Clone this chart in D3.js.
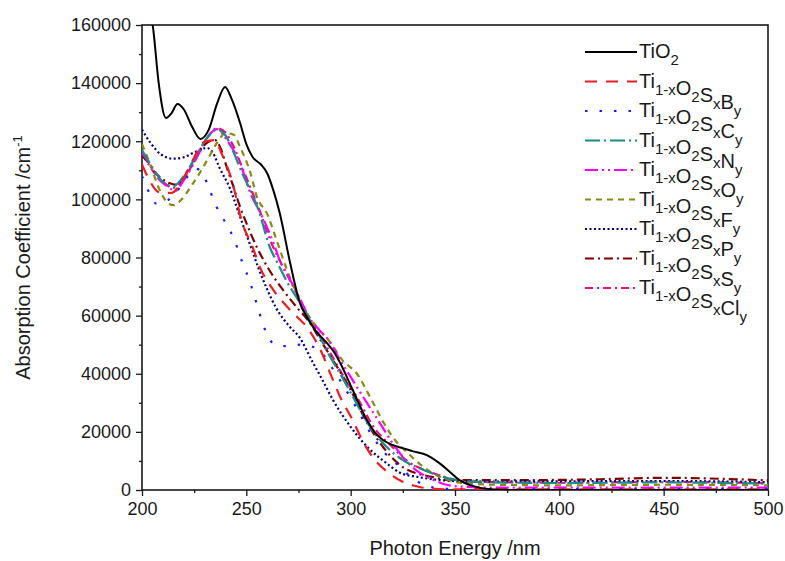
<!DOCTYPE html>
<html>
<head>
<meta charset="utf-8">
<script src="https://cdn.jsdelivr.net/npm/d3@7"></script>
<style>
  body { margin: 0; background: #fff; }
  svg text { font-family: "Liberation Sans", Arial, sans-serif; fill: #1a1a1a; }
</style>
</head>
<body>
<div id="the_chart"></div>
<script>
// x: photon energy (nm), y: absorption coefficient (cm^-1)
var tio2 = [[200,185000],[203,168000],[205.3,159000],[208,140000],[211.5,128000],[214,129500],[217,132800],[220,131000],[224,125000],[228,120800],[232,124000],[236,133000],[239.8,138700],[243,134500],[247,126300],[250,119000],[253,114600],[257,112000],[260,109000],[263,103000],[266,95300],[271,78100],[275.7,64300],[279,59500],[283,55000],[288.6,50600],[292,47500],[295,43700],[301,34400],[307.8,24100],[312,19500],[315.5,17200],[320,15500],[325,14400],[330,13300],[336.5,12000],[342,9500],[347.6,6200],[352,3500],[358,1500],[366.7,300],[380,0],[500,0]];
var tiB = [[200,112000],[204,106000],[208,102500],[214,102200],[219,106000],[224,113000],[230,119800],[235,120400],[238,116000],[243,106700],[248,92000],[253,83600],[256.5,76700],[263,68800],[271,61900],[280,55100],[286,47500],[290,40500],[295,32000],[301,24000],[306,16500],[312,10000],[318,6000],[324,3200],[332,1200],[340,400],[350,200],[500,200]];
var tiC = [[200,108000],[203,103000],[207,98500],[212,99500],[217,103000],[222,108000],[226,110500],[229,109000],[232,104000],[236,97000],[240,92000],[244,86500],[248,78500],[252,71000],[255,64000],[258,57000],[261,52000],[265,49700],[270,49500],[276,50000],[281,49500],[287,46500],[292,41000],[296,36500],[303,28000],[310,19000],[316,13000],[322,9000],[328,5000],[333,2500],[340,800],[350,300],[400,300],[500,400]];
var tiN = [[200,117000],[205,111000],[210,106000],[215,104500],[220,108000],[226,115000],[231,121000],[236,124000],[240,122000],[244,116000],[248,109000],[252,103000],[256,96000],[261,84000],[265,78000],[269,72300],[276,64000],[280,59000],[285,53000],[290,46000],[295,40000],[300,33500],[305,27000],[310,21000],[315,16500],[320,13000],[325,10300],[333,7500],[340,5500],[350,3500],[360,2800],[400,2400],[450,2600],[500,2200]];
var tiO = [[200,116000],[203,113000],[208,107000],[212,104500],[216,103000],[220,106500],[226,114000],[231,121000],[236,124200],[241,120000],[247,112500],[252,102000],[257,95000],[263,85000],[266,79000],[271,72300],[276,65400],[280,59500],[285,55000],[290,51000],[293,47100],[300,38900],[306,32000],[314,23000],[320,16200],[325,11400],[331,7000],[338,4000],[345,2000],[352,1200],[370,800],[500,800]];
var tiF = [[200,119000],[204,112000],[208,104000],[212,99000],[215,98000],[219,100000],[224,105000],[228,109500],[232,114500],[236,119500],[240,122800],[244,122200],[247,118000],[252,109000],[255,101000],[260,95000],[264.5,86000],[269,76700],[274,67800],[279,60900],[285,55000],[290,51000],[296,44700],[303,40000],[310,31000],[317,21700],[322,16500],[327,13000],[333,9000],[340,5500],[345,4000],[352,2500],[370,1800],[400,1600],[450,1800],[500,1600]];
var tiP = [[200,124000],[204,119500],[209,115500],[215,114000],[220,114500],[226,116500],[231,117700],[234,116000],[237,111100],[242,104000],[247,94000],[252,84000],[256,76000],[260,69000],[264,63000],[271,56000],[275,53000],[282,43700],[286,38500],[291.5,31000],[300,21700],[308,14800],[317,9300],[324,5800],[332,4500],[345,3300],[356,2900],[400,3000],[450,3100],[500,2700]];
var tiS = [[200,115000],[202,113500],[206,109500],[213,105600],[217,105000],[223,111000],[231,119400],[235,120400],[238,117000],[240.6,111100],[243.6,104800],[247,97400],[250,91900],[255,83600],[261,75700],[267.6,68800],[274,63000],[280,58000],[286,51000],[291.5,44700],[300,34400],[308,23000],[315.5,14800],[325,7900],[339,4500],[348,3400],[380,3400],[420,3700],[450,4200],[480,3800],[500,3300]];
var tiCl = [[200,116000],[205,110000],[210,106000],[215,104000],[220,107000],[226,114500],[231,121000],[236,124500],[240,123000],[244,118000],[248,111000],[252,104000],[257,95000],[262,85000],[266,79000],[271,72000],[276,65000],[280,59000],[285,53500],[290,47500],[295,41000],[303,32000],[311,21700],[320,14800],[327,10000],[335,7000],[343,5000],[352,3300],[370,2700],[400,2500],[450,2800],[500,2300]];

// legend labels as [text, subscript] parts
var labels = [
  [["Ti",""],["O","2"]],
  [["Ti","1-x"],["O","2"],["S","x"],["B","y"]],
  [["Ti","1-x"],["O","2"],["S","x"],["C","y"]],
  [["Ti","1-x"],["O","2"],["S","x"],["N","y"]],
  [["Ti","1-x"],["O","2"],["S","x"],["O","y"]],
  [["Ti","1-x"],["O","2"],["S","x"],["F","y"]],
  [["Ti","1-x"],["O","2"],["S","x"],["P","y"]],
  [["Ti","1-x"],["O","2"],["S","x"],["S","y"]],
  [["Ti","1-x"],["O","2"],["S","x"],["Cl","y"]]
];
var series = [tio2, tiB, tiC, tiN, tiO, tiF, tiP, tiS, tiCl];
var colors = ["#000000","#ee1c24","#1a1aff","#1a8a8a","#ff00ff","#8a8a10","#000080","#800000","#ee0a80"];
var dashes = [null,"12,9","2.5,12","15,4,2,4","13,4,2,4,2,4","6,5","2,2.5","9,4,2,4","8,4,2,4"];

var xTicks = [200,250,300,350,400,450,500];
var yTicks = [0,20000,40000,60000,80000,100000,120000,140000,160000];

gen_vis();

function gen_vis() {
  var w = 785, h = 561;
  var left = 142, right = 768, top = 25, bottom = 490;

  var svg = d3.select("#the_chart").append("svg")
              .attr("width", w).attr("height", h);

  var xscale = d3.scaleLinear().domain([200,500]).range([left,right]);
  var yscale = d3.scaleLinear().domain([0,160000]).range([bottom,top]);

  svg.append("clipPath").attr("id","clip")
     .append("rect").attr("x",left).attr("y",top)
     .attr("width",right-left).attr("height",bottom-top);

  // minor ticks
  var xminor = d3.axisBottom(xscale).tickValues(d3.range(225,500,50)).tickSize(3).tickFormat("");
  var yminor = d3.axisLeft(yscale).tickValues(d3.range(10000,160000,20000)).tickSize(3).tickFormat("");

  var xaxis = d3.axisBottom(xscale).tickValues(xTicks).tickSize(6).tickPadding(6).tickFormat(d3.format("d"));
  var yaxis = d3.axisLeft(yscale).tickValues(yTicks).tickSize(6).tickPadding(5).tickFormat(d3.format("d"));

  svg.append("g").attr("transform","translate(0," + bottom + ")").call(xminor);
  svg.append("g").attr("transform","translate(" + left + ",0)").call(yminor);
  svg.append("g").attr("class","xaxis").attr("transform","translate(0," + bottom + ")").call(xaxis);
  svg.append("g").attr("class","yaxis").attr("transform","translate(" + left + ",0)").call(yaxis);

  svg.selectAll(".domain").remove();
  svg.selectAll(".tick line").attr("stroke","#1a1a1a").attr("stroke-width",1.3);
  svg.selectAll(".tick text").style("font-size","18px").style("font-family","'Liberation Sans', Arial, sans-serif").attr("fill","#1a1a1a");

  // frame
  svg.append("rect").attr("x",left).attr("y",top)
     .attr("width",right-left).attr("height",bottom-top)
     .attr("fill","none").attr("stroke","#1a1a1a").attr("stroke-width",1.6);

  var line = d3.line()
               .x(function(d){ return xscale(d[0]); })
               .y(function(d){ return yscale(d[1]); })
               .curve(d3.curveMonotoneX);

  var plot = svg.append("g").attr("clip-path","url(#clip)");
  // draw from last to first so TiO2 sits on top
  for (var i = series.length - 1; i >= 0; i--) {
    plot.append("path").datum(series[i])
        .attr("d", line)
        .attr("fill","none")
        .attr("stroke", colors[i])
        .attr("stroke-width", i == 0 ? 2 : 2.2)
        .attr("stroke-dasharray", dashes[i]);
  }

  // legend
  var lg = svg.append("g");
  labels.forEach(function(lab, i) {
    var yy = 52 + i * 29.5;
    lg.append("line").attr("x1",585).attr("x2",637)
      .attr("y1",yy).attr("y2",yy)
      .attr("stroke",colors[i]).attr("stroke-width",2.2)
      .attr("stroke-dasharray",dashes[i]);
    var t = lg.append("text").attr("x",639).attr("y",yy + 6).style("font-size","20px");
    lab.forEach(function(p) {
      t.append("tspan").text(p[0]);
      if (p[1] != "") {
        t.append("tspan").attr("dy",7).style("font-size","15px").text(p[1]);
        t.append("tspan").attr("dy",-7).text("");
      }
    });
  });

  // axis titles
  svg.append("text").attr("x",(left+right)/2).attr("y",555)
     .attr("text-anchor","middle").style("font-size","20px")
     .text("Photon Energy /nm");
  var yt = svg.append("text")
     .attr("transform","translate(30," + ((top+bottom)/2) + ") rotate(-90)")
     .attr("text-anchor","middle").style("font-size","20px");
  yt.append("tspan").text("Absorption Coefficient /cm");
  yt.append("tspan").attr("dy",-8).style("font-size","13px").text("-1");
}
</script>
</body>
</html>
